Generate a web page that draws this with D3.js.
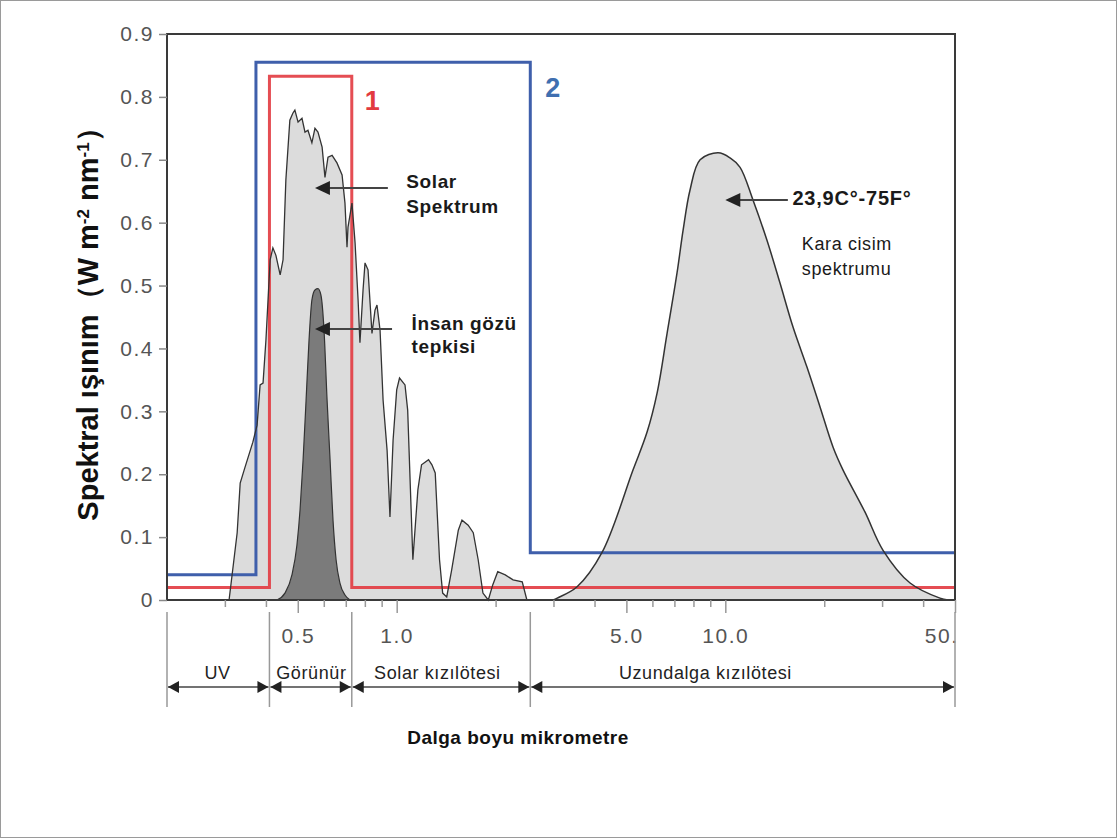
<!DOCTYPE html>
<html>
<head>
<meta charset="utf-8">
<script src="https://cdn.jsdelivr.net/npm/d3@7"></script>
<style>
  body { margin: 0; background: #fff; }
  svg { display: block; }
  text { font-family: "Liberation Sans", Arial, sans-serif; }
</style>
</head>
<body>
<div id="chart"></div>
<script>
// --- data (wavelength in micrometre, irradiance) ---
const solarWl = [0.309, 0.327, 0.334, 0.345, 0.365, 0.376, 0.384, 0.392, 0.400, 0.412, 0.420, 0.429, 0.442,
  0.451, 0.460, 0.473, 0.483, 0.490, 0.501, 0.515, 0.526, 0.537, 0.552, 0.564, 0.576, 0.593, 0.605, 0.618,
  0.636, 0.658, 0.682, 0.696, 0.706, 0.711, 0.731, 0.747, 0.763, 0.773, 0.790, 0.801, 0.818, 0.841, 0.859,
  0.871, 0.890, 0.909, 0.935, 0.954, 0.975, 1.00, 1.02, 1.06, 1.08, 1.12, 1.16, 1.19, 1.25, 1.28, 1.31,
  1.35, 1.38, 1.42, 1.47, 1.54, 1.58, 1.65, 1.71, 1.77, 1.83, 1.90, 1.96, 2.03, 2.14, 2.26, 2.41, 2.49];
const solarVal = [0, 0.107, 0.186, 0.21, 0.251, 0.278, 0.342, 0.345, 0.413, 0.541, 0.56, 0.548, 0.517,
  0.541, 0.668, 0.763, 0.774, 0.779, 0.76, 0.766, 0.744, 0.747, 0.727, 0.75, 0.744, 0.72, 0.672, 0.704,
  0.707, 0.695, 0.676, 0.631, 0.561, 0.593, 0.631, 0.568, 0.477, 0.409, 0.493, 0.536, 0.525, 0.424, 0.461,
  0.469, 0.429, 0.318, 0.238, 0.132, 0.254, 0.334, 0.353, 0.342, 0.302, 0.064, 0.175, 0.215, 0.223, 0.215, 0.202,
  0.064, 0.011, 0.005, 0.048, 0.111, 0.127, 0.119, 0.107, 0.064, 0.011, 0, 0.024, 0.045, 0.04, 0.032, 0.029, 0];

const eyeWl = [0.432, 0.457, 0.480, 0.497, 0.508, 0.519, 0.530, 0.541, 0.552, 0.564, 0.576, 0.588, 0.601,
  0.614, 0.627, 0.640, 0.654, 0.672, 0.696, 0.721];
const eyeVal = [0, 0.011, 0.040, 0.087, 0.143, 0.223, 0.318, 0.413, 0.477, 0.493, 0.495, 0.485, 0.429,
  0.318, 0.223, 0.127, 0.064, 0.027, 0.008, 0];

const bodyWl = [2.99, 3.08, 3.54, 4.22, 5.24, 5.78, 6.20, 6.65, 7.13, 7.44, 7.81, 8.38, 9.51, 10.34,
  11.09, 12.14, 13.39, 14.67, 16.07, 17.73, 19.42, 21.28, 22.8, 26.6, 30.2, 36.5, 45.0, 47.6];
const bodyVal = [0, 0.003, 0.021, 0.076, 0.207, 0.267, 0.329, 0.424, 0.52, 0.588, 0.652, 0.70, 0.711, 0.703,
  0.688, 0.636, 0.572, 0.504, 0.434, 0.370, 0.307, 0.243, 0.207, 0.140, 0.079, 0.027, 0.003, 0];

// sensor windows 1 (red) and 2 (blue)
const box1Wl = [0.2, 0.41, 0.41, 0.73, 0.73, 50];
const box1Val = [0.02, 0.02, 0.833, 0.833, 0.02, 0.02];
const box2Wl = [0.2, 0.373, 0.373, 2.55, 2.55, 50];
const box2Val = [0.04, 0.04, 0.855, 0.855, 0.075, 0.075];

const yTicks = [0, 0.1, 0.2, 0.3, 0.4, 0.5, 0.6, 0.7, 0.8, 0.9];
const xMinorTicks = [0.3, 0.4, 0.5, 0.6, 0.7, 0.8, 0.9, 1, 2, 3, 4, 5, 6, 7, 8, 9, 10, 20, 30, 40, 50];
const xMajorTicks = [0.5, 1, 5, 10, 50];
const xTickLabels = ['0.5', '1.0', '5.0', '10.0', '50.'];

const regionEdges = [0.2, 0.41, 0.73, 2.55, 50];
const regionNames = ['UV', 'Görünür', 'Solar kızılötesi', 'Uzundalga kızılötesi'];
const regionLabelAt = [0.285, 0.55, 1.33, 8.7];

const width = 1117, height = 838;

const svg = d3.select('#chart').append('svg')
  .attr('width', width)
  .attr('height', height);

// thin picture border
svg.append('rect')
  .attr('x', 0.5).attr('y', 0.5)
  .attr('width', width - 1).attr('height', height - 1)
  .attr('fill', 'none').attr('stroke', '#9a9a9a');

const x = d3.scaleLog().domain([0.2, 50]).range([167, 955]);
const y = d3.scaleLinear().domain([0, 0.9]).range([600, 34]);

const zip = (a, b) => a.map((d, i) => [d, b[i]]);

const area = d3.area()
  .x(d => x(d[0]))
  .y0(y(0))
  .y1(d => y(d[1]));
const line = d3.line()
  .x(d => x(d[0]))
  .y(d => y(d[1]));

// solar spectrum (jagged)
const solar = zip(solarWl, solarVal);
svg.append('path')
  .datum(solar)
  .attr('d', area.curve(d3.curveLinear))
  .attr('fill', '#dcdcdc');

// black body (smooth)
const body = zip(bodyWl, bodyVal);
svg.append('path')
  .datum(body)
  .attr('d', area.curve(d3.curveCatmullRom))
  .attr('fill', '#dcdcdc');

// windows
const boxLine = d3.line().x(d => x(d[0])).y(d => y(d[1]));
svg.append('path')
  .datum(zip(box2Wl, box2Val))
  .attr('d', boxLine)
  .attr('fill', 'none')
  .attr('stroke', '#3f5fab')
  .attr('stroke-width', 3);
svg.append('path')
  .datum(zip(box1Wl, box1Val))
  .attr('d', boxLine)
  .attr('fill', 'none')
  .attr('stroke', '#e23a40')
  .attr('stroke-opacity', 0.9)
  .attr('stroke-width', 3);

// outlines on top
svg.append('path')
  .datum(solar)
  .attr('d', line.curve(d3.curveLinear))
  .attr('fill', 'none')
  .attr('stroke', '#333')
  .attr('stroke-width', 1.3);

svg.append('path')
  .datum(body)
  .attr('d', line.curve(d3.curveCatmullRom))
  .attr('fill', 'none')
  .attr('stroke', '#333')
  .attr('stroke-width', 1.5);

// human eye response
const eye = zip(eyeWl, eyeVal);
svg.append('path')
  .datum(eye)
  .attr('d', area.curve(d3.curveMonotoneX))
  .attr('fill', '#7b7b7b')
  .attr('stroke', '#333')
  .attr('stroke-width', 1.2);

// frame
svg.append('rect')
  .attr('x', x(0.2)).attr('y', y(0.9))
  .attr('width', x(50) - x(0.2)).attr('height', y(0) - y(0.9))
  .attr('fill', 'none')
  .attr('stroke', '#3a3a3a')
  .attr('stroke-width', 2);

// y axis
const yAxis = svg.append('g')
  .attr('transform', `translate(${x(0.2)},0)`)
  .call(d3.axisLeft(y).tickValues(yTicks).tickSize(8).tickPadding(5)
    .tickFormat(d => d === 0 ? '0' : d3.format('.1f')(d)));
yAxis.select('.domain').remove();
yAxis.selectAll('line').attr('stroke', '#888').attr('stroke-width', 1.5);
yAxis.selectAll('text')
  .attr('fill', '#555')
  .attr('font-size', 21)
  .attr('letter-spacing', 1.5);

// x axis
const xAxis = svg.append('g')
  .attr('transform', `translate(0,${y(0)})`)
  .call(d3.axisBottom(x).tickValues(xMinorTicks).tickSize(7)
    .tickFormat(d => {
      const i = xMajorTicks.indexOf(d);
      return i < 0 ? '' : xTickLabels[i];
    }));
xAxis.select('.domain').remove();
xAxis.selectAll('line')
  .attr('stroke', '#999')
  .attr('stroke-width', 1.5)
  .attr('y2', d => xMajorTicks.includes(d) ? 13 : 7);
xAxis.selectAll('text')
  .attr('fill', '#555')
  .attr('font-size', 21)
  .attr('letter-spacing', 1.5)
  .attr('y', 28)
  .attr('text-anchor', d => d === 50 ? 'end' : 'middle')
  .attr('x', d => d === 50 ? 3 : 0);

// y title
svg.append('text')
  .attr('transform', 'translate(98,317) rotate(-90)')
  .attr('text-anchor', 'middle')
  .attr('font-size', 29)
  .attr('font-weight', 'bold')
  .attr('fill', '#111')
  .call(t => {
    t.append('tspan').text('Spektral ışınım（W m');
    t.append('tspan').attr('baseline-shift', 'super').attr('font-size', 17).text('-2');
    t.append('tspan').text(' nm');
    t.append('tspan').attr('baseline-shift', 'super').attr('font-size', 17).text('-1');
    t.append('tspan').text('）');
  });

// region bands under the axis
const bandTop = 612, bandBottom = 707, arrowY = 687;
svg.append('g')
  .selectAll('line')
  .data(regionEdges)
  .join('line')
  .attr('x1', d => x(d)).attr('x2', d => x(d))
  .attr('y1', bandTop).attr('y2', bandBottom)
  .attr('stroke', '#999')
  .attr('stroke-width', 1.5);

const bands = d3.pairs(regionEdges);
const bandG = svg.append('g');
bands.forEach(([a, b], i) => {
  const xa = x(a) + 1, xb = x(b) - 1;
  bandG.append('line')
    .attr('x1', xa).attr('x2', xb)
    .attr('y1', arrowY).attr('y2', arrowY)
    .attr('stroke', '#444').attr('stroke-width', 1.3);
  bandG.append('path')
    .attr('d', `M${xa},${arrowY}L${xa + 11},${arrowY - 6}L${xa + 11},${arrowY + 6}Z`)
    .attr('fill', '#222');
  bandG.append('path')
    .attr('d', `M${xb},${arrowY}L${xb - 11},${arrowY - 6}L${xb - 11},${arrowY + 6}Z`)
    .attr('fill', '#222');
  bandG.append('text')
    .attr('x', x(regionLabelAt[i]))
    .attr('y', 679)
    .attr('text-anchor', 'middle')
    .attr('font-size', 18)
    .attr('letter-spacing', 0.6)
    .attr('fill', '#222')
    .text(regionNames[i]);
});

// x title
svg.append('text')
  .attr('x', 518).attr('y', 744)
  .attr('text-anchor', 'middle')
  .attr('font-size', 19)
  .attr('font-weight', 'bold')
  .attr('letter-spacing', 0.5)
  .attr('fill', '#111')
  .text('Dalga boyu mikrometre');

// annotations (positions in data units)
function arrow(tipWl, tailWl, v) {
  const tx = x(tipWl), ty = y(v), ex = x(tailWl);
  svg.append('line')
    .attr('x1', tx + 10).attr('x2', ex)
    .attr('y1', ty).attr('y2', ty)
    .attr('stroke', '#444').attr('stroke-width', 2);
  svg.append('path')
    .attr('d', `M${tx},${ty}L${tx + 15},${ty - 7}L${tx + 15},${ty + 7}Z`)
    .attr('fill', '#222');
}
function label(wl, v, txt, opts = {}) {
  svg.append('text')
    .attr('x', x(wl)).attr('y', y(v))
    .attr('font-size', opts.size || 18)
    .attr('font-weight', opts.bold ? 'bold' : 'normal')
    .attr('letter-spacing', opts.spacing || 0)
    .attr('fill', opts.color || '#1a1a1a')
    .text(txt);
}

arrow(0.564, 0.94, 0.655);
label(1.07, 0.655, 'Solar', { bold: true, size: 19, spacing: 0.6 });
label(1.07, 0.615, 'Spektrum', { bold: true, size: 19, spacing: 0.6 });

arrow(0.564, 0.968, 0.431);
label(1.11, 0.429, 'İnsan gözü', { bold: true, size: 19, spacing: 0.6 });
label(1.11, 0.392, 'tepkisi', { bold: true, size: 19, spacing: 0.6 });

arrow(10, 15.5, 0.636);
label(16.0, 0.628, '23,9C°-75F°', { bold: true, size: 20, spacing: 0.8 });
label(17.1, 0.556, 'Kara cisim', { size: 18, spacing: 0.6 });
label(17.1, 0.517, 'spektrumu', { size: 18, spacing: 0.6 });

label(0.80, 0.779, '1', { bold: true, size: 27, color: '#e23a40' });
label(2.83, 0.80, '2', { bold: true, size: 27, color: '#3f6fb0' });
</script>
</body>
</html>
